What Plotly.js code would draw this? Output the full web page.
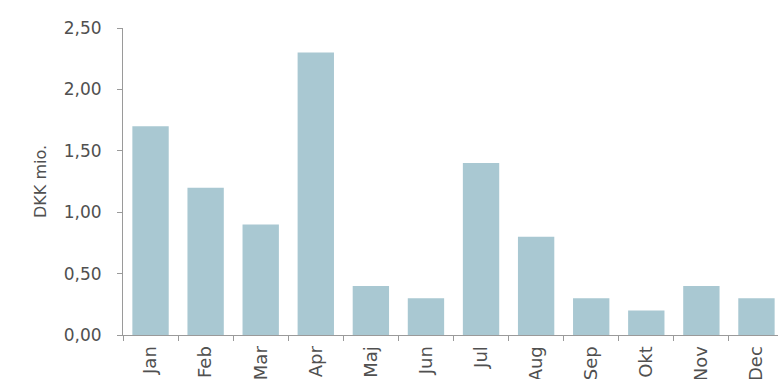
<!DOCTYPE html>
<html>
<head>
<meta charset="utf-8">
<script src="https://cdn.plot.ly/plotly-3.0.1.min.js"></script>
<style>
  html, body { margin: 0; padding: 0; background: #fff; overflow: hidden; }
  #chart { width: 784px; height: 379px; }
</style>
</head>
<body>
<div id="chart"></div>
<script>
// Monthly amounts in DKK millions
const months = ["Jan", "Feb", "Mar", "Apr", "Maj", "Jun", "Jul", "Aug", "Sep", "Okt", "Nov", "Dec"];
const amounts = [1.70, 1.20, 0.90, 2.30, 0.40, 0.30, 1.40, 0.80, 0.30, 0.20, 0.40, 0.30];
const yTicks = [0, 0.5, 1.0, 1.5, 2.0, 2.5];

const textColor = "#505050";
const axisColor = "#9a9a9a";

const trace = {
  type: "bar",
  x: months,
  y: amounts,
  marker: { color: "#a9c8d2", line: { width: 0 } },
  hoverinfo: "skip"
};

const layout = {
  width: 784,
  height: 379,
  margin: { l: 123, r: 0, t: 28, b: 44 },
  paper_bgcolor: "#ffffff",
  plot_bgcolor: "#ffffff",
  separators: ",.",
  bargap: 0.34,
  showlegend: false,
  font: { family: "DejaVu Sans, Verdana, sans-serif", color: textColor, size: 16 },
  xaxis: {
    type: "category",
    showline: true,
    linecolor: axisColor,
    linewidth: 1,
    ticks: "outside",
    tickson: "boundaries",
    ticklen: 5,
    tickcolor: axisColor,
    tickangle: -90,
    ticklabelstandoff: 3,
    tickfont: { size: 18, color: textColor },
    showgrid: false,
    zeroline: false,
    automargin: false
  },
  yaxis: {
    range: [0, 2.5],
    tickvals: yTicks,
    tickformat: ".2f",
    showline: true,
    linecolor: axisColor,
    linewidth: 1,
    ticks: "outside",
    ticklen: 5,
    tickcolor: axisColor,
    ticklabelstandoff: 12,
    tickfont: { size: 17, color: textColor },
    showgrid: false,
    zeroline: false,
    automargin: false,
    title: { text: "DKK mio.", font: { size: 16, color: textColor }, standoff: 13 }
  }
};

Plotly.newPlot("chart", [trace], layout, { staticPlot: true, displayModeBar: false });
</script>
</body>
</html>
